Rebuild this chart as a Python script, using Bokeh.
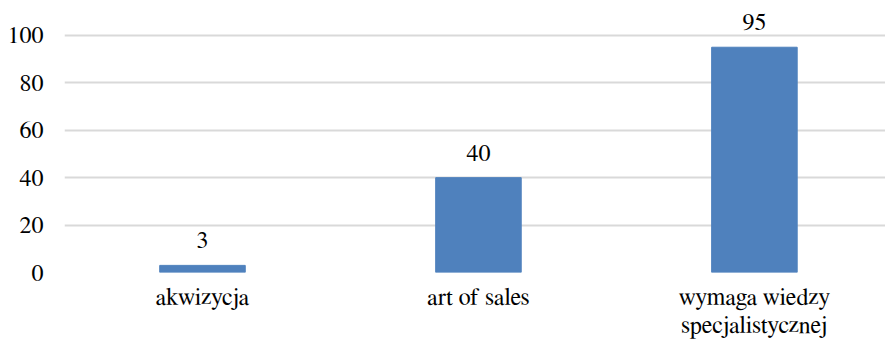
from bokeh.plotting import figure
from bokeh.models import ColumnDataSource, FixedTicker, Range1d
from bokeh.core.properties import value
from bokeh.embed import file_html
from bokeh.resources import INLINE

categories = ["akwizycja", "art of sales", "wymaga wiedzy\nspecjalistycznej"]
values = [3, 40, 95]
y_ticks = [0, 20, 40, 60, 80, 100]

xs = list(range(len(categories)))
src = ColumnDataSource(dict(x=xs, top=values, label=[str(v) for v in values]))

FONT = "FreeSerif"
FS = "24px"

p = figure(width=885, height=341, output_backend="svg", toolbar_location=None,
           x_range=Range1d(-0.5, 2.475), y_range=Range1d(0, 112.6),
           min_border_left=64, min_border_right=0, min_border_top=5, min_border_bottom=68)
p.outline_line_color = None

p.vbar(x="x", top="top", width=0.31, bottom=0, source=src,
       fill_color="#4f81bd", line_color="#4f81bd")
p.text(x="x", y="top", text="label", source=src, text_align="center",
       text_baseline="bottom", y_offset=-17, text_font=value(FONT),
       text_font_size=FS, text_color="#000000")

p.yaxis.ticker = FixedTicker(ticks=y_ticks)
p.yaxis.axis_line_color = None
p.yaxis.major_tick_line_color = None
p.yaxis.minor_tick_line_color = None
p.yaxis.major_tick_out = 0
p.yaxis.major_label_standoff = 21
p.yaxis.major_label_text_font = FONT
p.yaxis.major_label_text_font_size = FS
p.yaxis.major_label_text_color = "#000000"

p.xaxis.ticker = FixedTicker(ticks=xs)
p.xaxis.major_label_overrides = {i: c for i, c in enumerate(categories)}
p.xaxis.axis_line_color = None
p.xaxis.major_tick_line_color = None
p.xaxis.minor_tick_line_color = None
p.xaxis.major_tick_out = 0
p.xaxis.major_label_standoff = 13
p.xaxis.major_label_text_font = FONT
p.xaxis.major_label_text_font_size = FS
p.xaxis.major_label_text_color = "#000000"

p.xgrid.grid_line_color = None
p.ygrid.grid_line_color = "#d9d9d9"
p.ygrid.grid_line_width = 2

open("out.html", "w").write(file_html(p, INLINE))
